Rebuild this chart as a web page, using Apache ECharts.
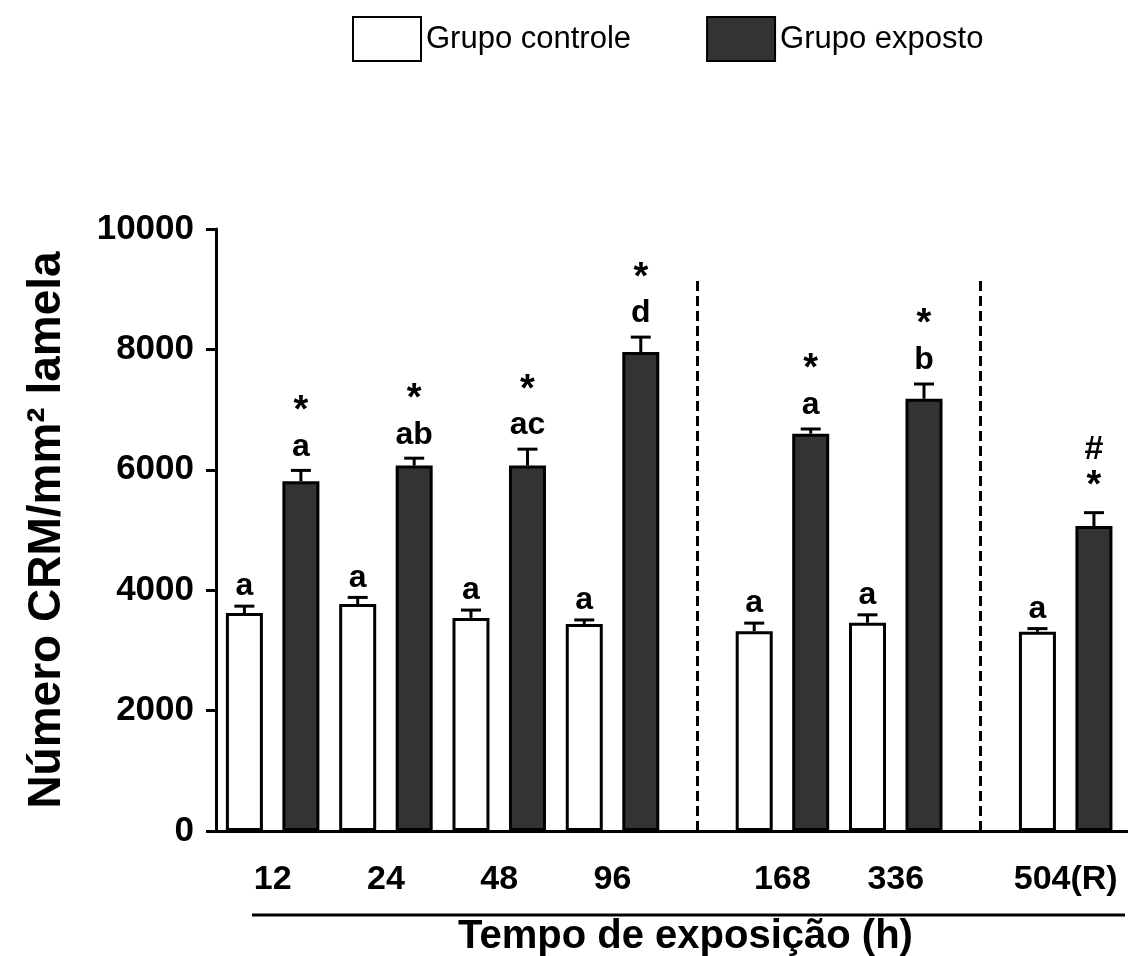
<!DOCTYPE html>
<html>
<head>
<meta charset="utf-8">
<script src="https://cdn.jsdelivr.net/npm/echarts@6/dist/echarts.min.js"></script>
<style>
  html, body { margin: 0; padding: 0; background: #fff; }
  #chart { width: 1128px; height: 956px; }
</style>
</head>
<body>
<div id="chart"></div>
<script>
// Exposure times (h) and their positions on the x scale (half-step gaps between phases)
const categories = ['12', '24', '48', '96', '168', '336', '504(R)'];
const positions = [0, 1, 2, 3, 4.5, 5.5, 7];

// Mean number of cells per mm² and upper SEM
const controle = [3620, 3770, 3540, 3440, 3320, 3460, 3310];
const controleErr = [115, 110, 130, 66, 133, 131, 52];
const exposto = [5810, 6070, 6070, 7955, 6600, 7180, 5065];
const expostoErr = [180, 123, 273, 249, 78, 245, 223];

// Significance marks drawn above each bar (top line first)
const controleMarks = ['a', 'a', 'a', 'a', 'a', 'a', 'a'];
const expostoMarks = ['*\na', '*\nab', '*\nac', '*\nd', '*\na', '*\nb', '#\n*'];

// Phase separators (x positions) and their height
const separators = [3.75, 6.25];
const separatorTop = 9150;

// Y ticks
const yMin = 0, yMax = 10000, yStep = 2000;

const FONT = "'Liberation Sans', Arial, sans-serif";
const BAR_WIDTH = 37;
const BAR_GAP = 0.527;
const HALF_PITCH = BAR_WIDTH * (1 + BAR_GAP) / 2;

const labelOf = {};
positions.forEach((p, i) => { labelOf[p] = categories[i]; });

// Asterisks and hash signs are set a little larger than the letters
function richMarks(str) {
  return str.split('\n').map(l => {
    if (l === '*') return '{s|*}';
    if (l === '#') return '{h|#}';
    return '{t|' + l + '}';
  }).join('\n');
}

function errorRenderer(offset, errs, marks, gap) {
  return function (params, api) {
    const pos = api.value(0);
    const val = api.value(1);
    const err = errs[params.dataIndex];
    const base = api.coord([pos, val]);
    const top = api.coord([pos, val + err]);
    const x = base[0] + offset;
    return {
      type: 'group',
      children: [
        { type: 'line', shape: { x1: x, y1: base[1], x2: x, y2: top[1] },
          style: { stroke: '#000', lineWidth: 3 } },
        { type: 'line', shape: { x1: x - 10, y1: top[1], x2: x + 10, y2: top[1] },
          style: { stroke: '#000', lineWidth: 3 } },
        { type: 'text', style: {
            text: richMarks(marks[params.dataIndex]), x: x, y: top[1] - gap,
            align: 'center', verticalAlign: 'bottom', fill: '#000',
            rich: {
              s: { font: 'bold 38px ' + FONT, lineHeight: 38, fill: '#000' },
              h: { font: 'bold 34px ' + FONT, lineHeight: 36, fill: '#000' },
              t: { font: 'bold 32px ' + FONT, lineHeight: 33, fill: '#000' }
            } } }
      ]
    };
  };
}

const ctrlData = positions.map((p, i) => [p, controle[i]]);
const expData = positions.map((p, i) => [p, exposto[i]]);

const chart = echarts.init(document.getElementById('chart'), null, { renderer: 'canvas' });

chart.setOption({
  animation: false,
  backgroundColor: '#fff',
  textStyle: { fontFamily: FONT, color: '#000' },
  legend: {
    data: ['Grupo controle', 'Grupo exposto'],
    left: 347,
    top: 11,
    icon: 'rect',
    itemWidth: 68,
    itemHeight: 44,
    itemGap: 75,
    itemStyle: { borderWidth: 2 },
    textStyle: { fontSize: 31, color: '#000', fontFamily: FONT }
  },
  grid: { left: 216, right: 0, top: 229, bottom: 125, outerBoundsMode: 'none' },
  xAxis: {
    type: 'value',
    min: -0.5,
    max: 7.55,
    interval: 0.5,
    splitLine: { show: false },
    axisTick: { show: false },
    axisLine: { lineStyle: { color: '#000', width: 3 } },
    axisLabel: {
      margin: 32,
      fontSize: 34,
      fontWeight: 'bold',
      color: '#000',
      fontFamily: FONT,
      showMinLabel: true,
      showMaxLabel: true,
      formatter: v => labelOf[v] || ''
    }
  },
  yAxis: {
    type: 'value',
    min: yMin,
    max: yMax,
    interval: yStep,
    name: 'Número CRM/mm² lamela',
    nameLocation: 'middle',
    nameRotate: 90,
    nameGap: 146,
    nameTextStyle: { fontSize: 46, fontWeight: 'bold', color: '#000', fontFamily: FONT },
    splitLine: { show: false },
    axisLine: { show: true, onZero: false, lineStyle: { color: '#000', width: 3 } },
    axisTick: { show: true, inside: false, length: 10, lineStyle: { color: '#000', width: 3 } },
    axisLabel: { margin: 22, fontSize: 35, fontWeight: 'bold', color: '#000', fontFamily: FONT,
      formatter: v => String(v) }
  },
  series: [
    {
      name: 'Grupo controle',
      type: 'bar',
      data: ctrlData,
      barWidth: BAR_WIDTH,
      barGap: (BAR_GAP * 100) + '%',
      itemStyle: { color: '#ffffff', borderColor: '#000', borderWidth: 3 }
    },
    {
      name: 'Grupo exposto',
      type: 'bar',
      data: expData,
      barWidth: BAR_WIDTH,
      barGap: (BAR_GAP * 100) + '%',
      itemStyle: { color: '#333333', borderColor: '#000', borderWidth: 3 }
    },
    {
      type: 'custom',
      z: 5,
      data: ctrlData,
      renderItem: errorRenderer(-HALF_PITCH, controleErr, controleMarks, 3),
      markLine: {
        silent: true,
        symbol: 'none',
        label: { show: false },
        lineStyle: { color: '#000', width: 3, type: [10, 5] },
        data: separators.map(s => [{ coord: [s, 0] }, { coord: [s, separatorTop] }])
      }
    },
    {
      type: 'custom',
      z: 5,
      data: expData,
      renderItem: errorRenderer(HALF_PITCH, expostoErr, expostoMarks, 7)
    }
  ],
  graphic: [
    { type: 'line', shape: { x1: 252, y1: 915, x2: 1125, y2: 915 },
      style: { stroke: '#000', lineWidth: 3 } },
    { type: 'text', left: 458, top: 917,
      style: { text: 'Tempo de exposição (h)', font: 'bold 40px ' + FONT, fill: '#000' } }
  ]
});
</script>
</body>
</html>
